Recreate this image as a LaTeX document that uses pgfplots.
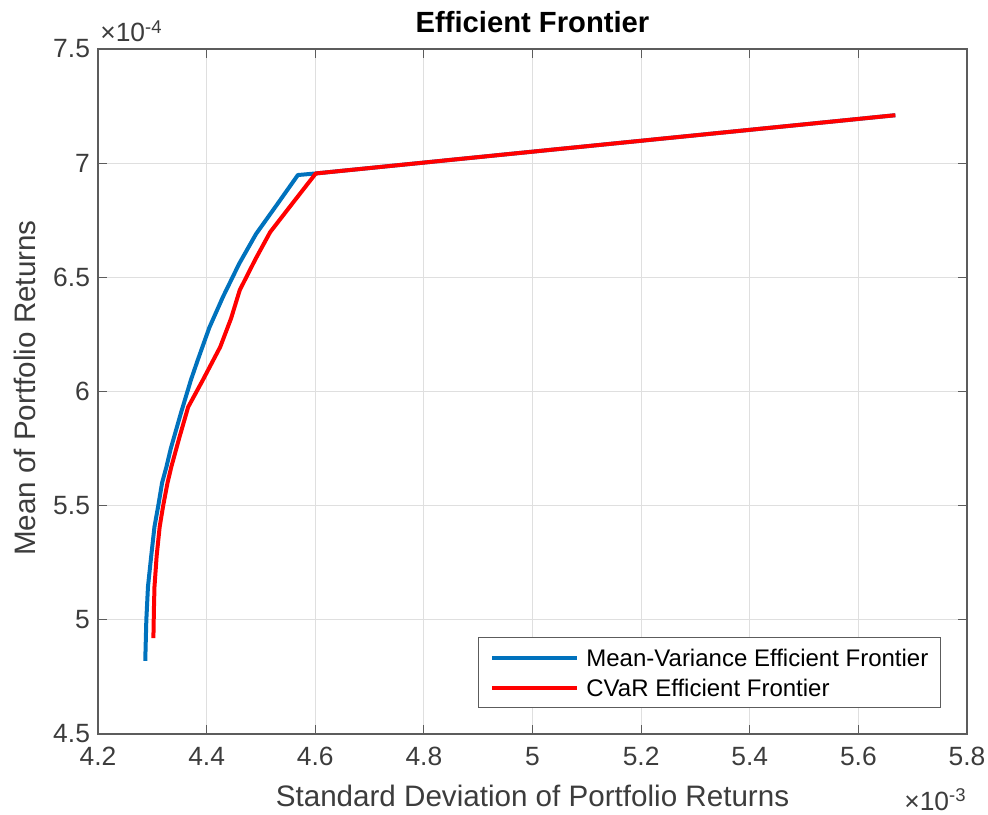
\documentclass[border=0pt]{standalone}
\usepackage{fontspec}
\setmainfont{Liberation Sans}
\usepackage{pgfplots}
\pgfplotsset{compat=1.18}
\definecolor{mblue}{HTML}{0072BD}
\definecolor{mred}{HTML}{FF0000}
\definecolor{axgray}{HTML}{262626}
\begin{document}
\begin{tikzpicture}
\useasboundingbox (-49pt,-40pt) rectangle (445pt,367pt);
\begin{axis}[
  at={(0,0)}, anchor=south west,
  scale only axis,
  width=434.5pt, height=342.5pt,
  xmin=4.2, xmax=5.8, ymin=4.5, ymax=7.5,
  xtick={4.2,4.4,...,5.8}, ytick={4.5,5,...,7.5},
  xticklabels={4.2,4.4,4.6,4.8,5,5.2,5.4,5.6,5.8},
  yticklabels={4.5,5,5.5,6,6.5,7,7.5},
  tick align=inside, tick pos=both,
  major tick length=4.5pt,
  grid=major,
  grid style={gray!25, line width=0.5pt},
  axis line style={axgray!75, line width=0.6pt},
  tick style={axgray!75, line width=0.6pt},
  tick label style={font=\fontsize{13.2}{15}\selectfont, text=axgray!90},
  xticklabel style={yshift=-3pt},
  yticklabel style={xshift=-0.5pt},
  /pgf/number format/assume math mode=true,
  xlabel={Standard Deviation of Portfolio Returns},
  ylabel={Mean of Portfolio Returns},
  label style={font=\fontsize{14.8}{17}\selectfont, text=axgray!90},
  xlabel style={at={(axis description cs:0.5,-0.0905)}, anchor=center},
  ylabel style={at={(axis description cs:-0.084,0.505)}, anchor=center},
  title={\textbf{Efficient Frontier}},
  title style={font=\fontsize{14.6}{17}\selectfont, at={(axis description cs:0.5,1.0394)}, anchor=center, yshift=-6pt},
  legend style={at={(rel axis cs:0.970,0.038)}, anchor=south east,
    font=\fontsize{12}{14}\selectfont, draw=axgray!75, line width=0.6pt,
    nodes={inner sep=0pt, text height=8.6pt, text depth=0pt},
    row sep=6.4pt, column sep=3.5pt, inner xsep=6pt, inner ysep=5.6pt},
  legend cell align=left,
  legend image code/.code={\draw[#1, line width=2pt] (0pt,0pt) -- (42.5pt,0pt);},
  clip=false,
]
\addplot[mblue, line width=2pt, line join=round] coordinates {
(4.287,4.82) (4.289,5.00) (4.292,5.145) (4.298,5.28) (4.304,5.408)
(4.311,5.50) (4.318,5.60) (4.326,5.67) (4.334,5.75) (4.352,5.90)
(4.371,6.05) (4.384,6.14) (4.405,6.28) (4.430,6.414) (4.460,6.56)
(4.491,6.69) (4.530,6.82) (4.568,6.948) (4.601,6.955) (5.668,7.21)
};
\addlegendentry{Mean-Variance Efficient Frontier}
\addplot[mred, line width=2pt, line join=round] coordinates {
(4.302,4.92) (4.303,5.05) (4.304,5.145) (4.308,5.28) (4.3136,5.408)
(4.320,5.50) (4.328,5.60) (4.335,5.67) (4.350,5.80) (4.366,5.932)
(4.393,6.05) (4.425,6.195) (4.445,6.32) (4.461,6.444) (4.490,6.58)
(4.517,6.698) (4.560,6.83) (4.601,6.955) (5.668,7.21)
};
\addlegendentry{CVaR Efficient Frontier}
\node[anchor=base west, text=axgray!90, font=\fontsize{13.2}{15}\selectfont, inner sep=0pt] at ([xshift=1pt,yshift=3.5pt]axis description cs:0,1) {×10\textsuperscript{-4}};
\node[anchor=base east, text=axgray!90, font=\fontsize{13.2}{15}\selectfont, inner sep=0pt] at ([yshift=-38pt]axis description cs:1,0) {×10\textsuperscript{-3}};
\end{axis}
\end{tikzpicture}
\end{document}
